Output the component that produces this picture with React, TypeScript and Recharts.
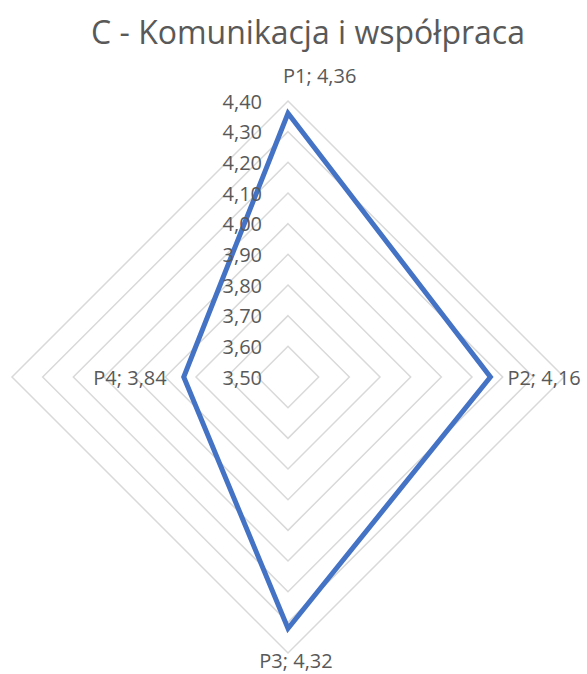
import React from "react";
import { RadarChart, Radar, PolarGrid, PolarAngleAxis, PolarRadiusAxis } from "recharts";

const categories = ["P1", "P2", "P3", "P4"];
const scores = [4.36, 4.16, 4.32, 3.84];
const radiusTicks = [3.5, 3.6, 3.7, 3.8, 3.9, 4.0, 4.1, 4.2, 4.3, 4.4];

const data = categories.map((name, i) => ({ name, value: scores[i] }));

const fmt = (v: number) => v.toFixed(2).replace(".", ",");
const FONT = "'Open Sans', sans-serif";
const TEXT = "#595959";

// Data label placed outside each vertex, depending on its direction
const renderLabel = (props: any) => {
  const { x, y, index, value } = props;
  const text = `${categories[index]}; ${fmt(Number(value))}`;
  const common = { fill: TEXT, fontSize: 20, fontFamily: FONT, dominantBaseline: "central" as const };
  if (index === 0) return <text {...common} x={x - 5} y={y - 38} textAnchor="start">{text}</text>;
  if (index === 1) return <text {...common} x={x + 17} y={y} textAnchor="start">{text}</text>;
  if (index === 2) return <text {...common} x={x + 8} y={y + 32} textAnchor="middle">{text}</text>;
  return <text {...common} x={x - 17} y={y} textAnchor="end">{text}</text>;
};

const renderTick = (props: any) => {
  const { x, y, payload } = props;
  return (
    <text x={x - 26} y={y} textAnchor="end" dominantBaseline="central" fill={TEXT} fontSize={20} fontFamily={FONT}>
      {fmt(payload.value)}
    </text>
  );
};

export default function App() {
  return (
    <div style={{ position: "fixed", left: 0, top: 0, width: 587, height: 674, background: "#fff" }}>
      <div
        style={{
          position: "absolute",
          left: 0,
          top: 10,
          width: 616,
          textAlign: "center",
          fontFamily: FONT,
          fontSize: 32,
          color: TEXT,
          whiteSpace: "nowrap",
        }}
      >
        C - Komunikacja i współpraca
      </div>
      <RadarChart
        width={587}
        height={674}
        data={data}
        cx={288}
        cy={377}
        outerRadius={276}
        margin={{ top: 0, right: 0, bottom: 0, left: 0 }}
        style={{ position: "absolute", left: 0, top: 0 }}
      >
        <PolarGrid gridType="polygon" radialLines={false} stroke="#d9d9d9" strokeWidth={1.5} />
        <PolarAngleAxis dataKey="name" tick={false} axisLine={false} />
        <PolarRadiusAxis
          angle={90}
          domain={[3.5, 4.4]}
          ticks={radiusTicks as any}
          tickCount={10}
          axisLine={false}
          tickLine={false}
          tick={renderTick}
        />
        <Radar
          dataKey="value"
          stroke="#4472C4"
          strokeWidth={5}
          fill="none"
          fillOpacity={0}
          strokeLinejoin="miter"
          dot={false}
          label={renderLabel}
          isAnimationActive={false}
        />
      </RadarChart>
    </div>
  );
}
